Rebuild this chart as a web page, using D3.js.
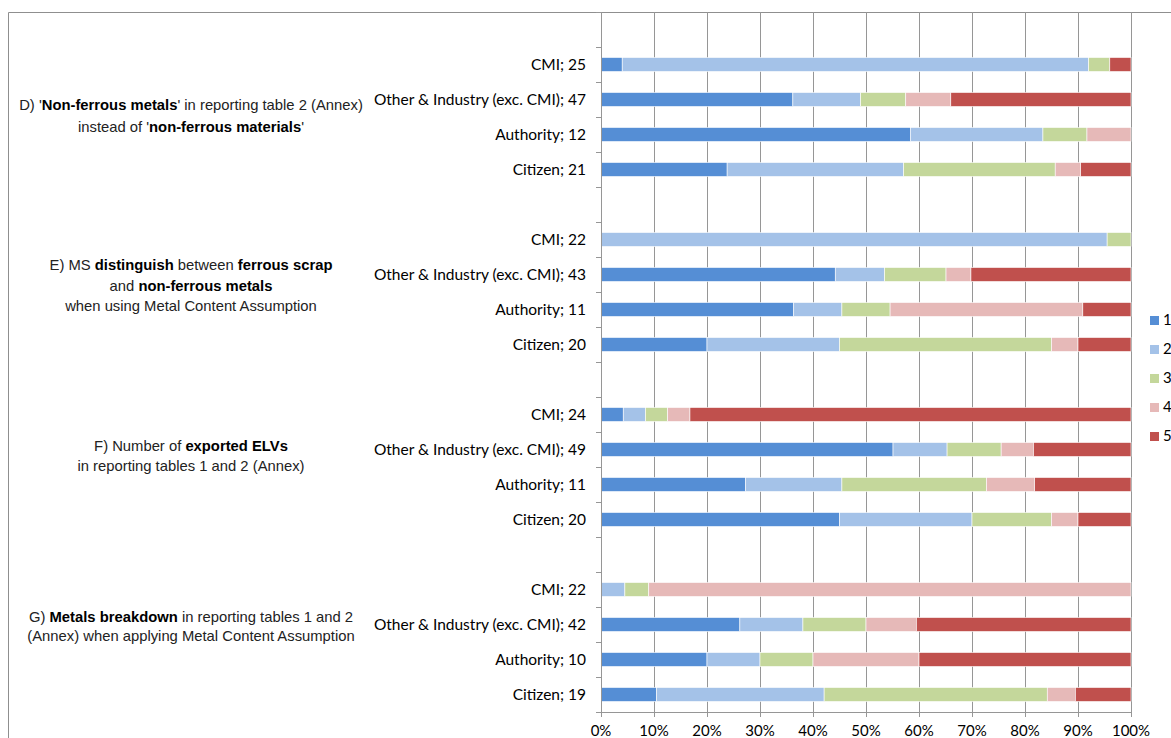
<!DOCTYPE html>
<html>
<head>
<meta charset="utf-8">
<script src="https://cdn.jsdelivr.net/npm/d3@7"></script>
<style>
  body { margin: 0; background: #fff; }
  svg { display: block; }
</style>
</head>
<body>
<div id="chart"></div>
<script>
// rows, top to bottom (each group starts with an empty slot)
var groupKeys = ["D", "E", "F", "G"];
var rowNames = ["CMI", "Other & Industry (exc. CMI)", "Authority", "Citizen"];
var respondents = [
    [25, 47, 12, 21],
    [22, 43, 11, 20],
    [24, 49, 11, 20],
    [22, 42, 10, 19]
];

// share of answers (%) per score, 16 rows in order D..G
var score1 = [4, 36.2, 58.3, 23.8,   0, 44.2, 36.4, 20,   4.2, 55.1, 27.3, 45,   0, 26.2, 20, 10.5];
var score2 = [88, 12.8, 25, 33.3,    95.5, 9.3, 9.1, 25,  4.2, 10.2, 18.2, 25,   4.5, 11.9, 10, 31.6];
var score3 = [4, 8.5, 8.3, 28.6,     4.5, 11.6, 9.1, 40,  4.2, 10.2, 27.3, 15,   4.5, 11.9, 10, 42.1];
var score4 = [0, 8.5, 8.3, 4.8,      0, 4.7, 36.4, 5,     4.2, 6.1, 9.1, 5,      90.9, 9.5, 20, 5.3];
var score5 = [4, 34, 0, 9.5,         0, 30.2, 9.1, 10,    83.3, 18.4, 18.2, 10,  0, 40.5, 40, 10.5];

var seriesKeys = ["1", "2", "3", "4", "5"];
var colors = ["#558ed5", "#a4c2e8", "#c4d79b", "#e6b9b8", "#c0504d"];
var xTicks = [0, 0.1, 0.2, 0.3, 0.4, 0.5, 0.6, 0.7, 0.8, 0.9, 1];

// question text on the left, one list of lines per group (segments: [text, bold])
var questionLines = [
    [
        [["D) '", 0], ["Non-ferrous metals", 1], ["' in reporting table 2 (Annex)", 0]],
        [["instead of '", 0], ["non-ferrous materials", 1], ["'", 0]]
    ],
    [
        [["E) MS ", 0], ["distinguish", 1], [" between ", 0], ["ferrous scrap", 1]],
        [["and ", 0], ["non-ferrous metals", 1]],
        [["when using Metal Content Assumption", 0]]
    ],
    [
        [["F) Number of ", 0], ["exported ELVs", 1]],
        [["in reporting tables 1 and 2 (Annex)", 0]]
    ],
    [
        [["G)  ", 0], ["Metals breakdown", 1], [" in reporting tables 1 and 2", 0]],
        [["(Annex) when applying Metal Content Assumption", 0]]
    ]
];
var questionY = [[105, 127], [265, 286, 306], [446, 466], [617, 636]];

var W = 1171, H = 738;
var plot = { left: 601, right: 1131, top: 12, bottom: 712 };

// build table rows
var rows = [];
var domain = [];
var i = 0;
groupKeys.forEach(function (g, gi) {
    domain.push("blank-" + g);
    rowNames.forEach(function (name, ri) {
        var key = g + "-" + ri;
        domain.push(key);
        rows.push({
            key: key,
            label: name + "; " + respondents[gi][ri],
            "1": score1[i], "2": score2[i], "3": score3[i], "4": score4[i], "5": score5[i]
        });
        i++;
    });
});

var svg = d3.select("#chart").append("svg")
    .attr("width", W)
    .attr("height", H);

var x = d3.scaleLinear().domain([0, 1]).range([plot.left, plot.right]);
var y = d3.scaleBand().domain(domain).range([plot.top, plot.bottom]).padding(0);
var color = d3.scaleOrdinal().domain(seriesKeys).range(colors);

// chart border (runs off the picture on the right and bottom)
svg.append("path")
    .attr("d", "M8.5," + H + "V12.5H" + W)
    .attr("fill", "none")
    .attr("stroke", "#8f8f8f")
    .attr("stroke-width", 1);

// vertical gridlines
svg.append("g")
    .selectAll("line")
    .data(xTicks)
    .enter()
    .append("line")
    .attr("x1", function (d) { return Math.round(x(d)) + 0.5; })
    .attr("x2", function (d) { return Math.round(x(d)) + 0.5; })
    .attr("y1", plot.top)
    .attr("y2", plot.bottom + 5)
    .attr("stroke", "#969696")
    .attr("stroke-width", 1);

// stacked bars
var stack = d3.stack().keys(seriesKeys).offset(d3.stackOffsetExpand);
var stacked = stack(rows);
var barH = 14;

svg.append("g")
    .selectAll("g")
    .data(stacked)
    .enter()
    .append("g")
    .attr("fill", function (d) { return color(d.key); })
    .selectAll("rect")
    .data(function (d) { return d; })
    .enter()
    .append("rect")
    .attr("x", function (d) { return x(d[0]); })
    .attr("width", function (d) { return Math.max(0, x(d[1]) - x(d[0])); })
    .attr("y", function (d) { return y(d.data.key) + y.bandwidth() / 2 - barH / 2; })
    .attr("height", barH)
    .attr("stroke", "#ffffff")
    .attr("stroke-width", 0.6);

// left axis with ticks between categories
var yAxis = svg.append("g");
yAxis.append("line")
    .attr("x1", plot.left + 0.5).attr("x2", plot.left + 0.5)
    .attr("y1", plot.top).attr("y2", plot.bottom)
    .attr("stroke", "#969696");
yAxis.selectAll("line.tick")
    .data(domain.concat(["end"]))
    .enter()
    .append("line")
    .attr("class", "tick")
    .attr("x1", plot.left - 5).attr("x2", plot.left)
    .attr("y1", function (d) { return (d === "end" ? plot.bottom : y(d)) + 0.5; })
    .attr("y2", function (d) { return (d === "end" ? plot.bottom : y(d)) + 0.5; })
    .attr("stroke", "#969696");

// bottom axis line
svg.append("line")
    .attr("x1", plot.left).attr("x2", plot.right + 1)
    .attr("y1", plot.bottom + 0.5).attr("y2", plot.bottom + 0.5)
    .attr("stroke", "#969696");

var labelFont = "Lato, 'Open Sans', sans-serif";

// category labels
svg.append("g")
    .selectAll("text")
    .data(rows)
    .enter()
    .append("text")
    .attr("x", 586)
    .attr("y", function (d) { return y(d.key) + y.bandwidth() / 2; })
    .attr("dy", "0.35em")
    .attr("text-anchor", "end")
    .attr("font-family", labelFont)
    .attr("font-size", 15.5)
    .attr("fill", "#000")
    .text(function (d) { return d.label; });

// x tick labels
svg.append("g")
    .selectAll("text")
    .data(xTicks)
    .enter()
    .append("text")
    .attr("x", function (d) { return x(d); })
    .attr("y", 736)
    .attr("text-anchor", "middle")
    .attr("font-family", labelFont)
    .attr("font-size", 15)
    .attr("fill", "#000")
    .text(d3.format(".0%"));

// question texts
var q = svg.append("g")
    .attr("font-family", "'Liberation Sans', Arial, sans-serif")
    .attr("font-size", 14.8)
    .attr("fill", "#222");
questionLines.forEach(function (lines, gi) {
    lines.forEach(function (segs, li) {
        var t = q.append("text")
            .attr("x", 191)
            .attr("y", questionY[gi][li])
            .attr("dy", "0.35em")
            .attr("text-anchor", "middle");
        segs.forEach(function (s) {
            t.append("tspan")
                .attr("font-weight", s[1] ? "bold" : "normal")
                .attr("fill", s[1] ? "#000" : "#222")
                .text(s[0]);
        });
    });
});

// legend
var legend = svg.append("g")
    .selectAll("g")
    .data(seriesKeys)
    .enter()
    .append("g")
    .attr("transform", function (d, k) { return "translate(1150," + (320 + k * 29) + ")"; });
legend.append("rect")
    .attr("x", 0).attr("y", -4)
    .attr("width", 9).attr("height", 9)
    .attr("fill", function (d) { return color(d); });
legend.append("text")
    .attr("x", 13)
    .attr("y", 0)
    .attr("dy", "0.35em")
    .attr("font-family", labelFont)
    .attr("font-size", 15)
    .attr("fill", "#000")
    .text(function (d) { return d; });
</script>
</body>
</html>
